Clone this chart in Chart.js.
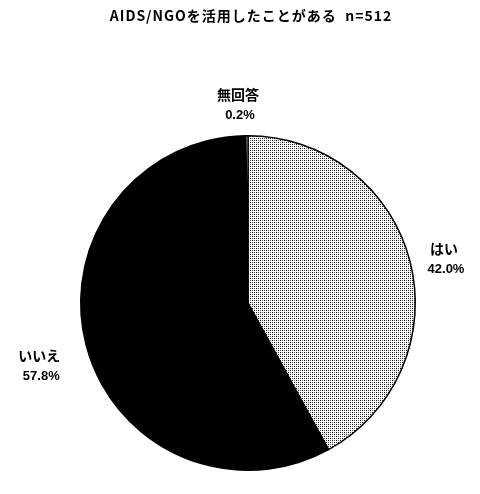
<!DOCTYPE html>
<html>
<head>
<meta charset="utf-8">
<script src="https://cdn.jsdelivr.net/npm/chart.js@4/dist/chart.umd.min.js"></script>
<style>
  html, body { margin: 0; padding: 0; background: #fff; }
  #wrap { width: 480px; height: 494px; }
</style>
</head>
<body>
<div id="wrap"><canvas id="chart"></canvas></div>
<script>
var title      = 'AIDS/NGOを活用したことがある  n=512';
var categories = ['はい', 'いいえ', '無回答'];
var values     = [42.0, 57.8, 0.2];

// dotted fill like the printed screen tone
function dotPattern() {
    var c = document.createElement('canvas');
    c.width = 4; c.height = 4;
    var g = c.getContext('2d');
    g.fillStyle = '#ffffff';
    g.fillRect(0, 0, 4, 4);
    g.fillStyle = '#000000';
    g.fillRect(0, 0, 1, 1);
    g.fillRect(2, 2, 1, 1);
    g.fillStyle = '#555555';
    g.fillRect(2, 0, 1, 1);
    g.fillRect(0, 2, 1, 1);
    return g.createPattern(c, 'repeat');
}

// label shift from the middle of each slice's rim
var labelShift = [[34, -3], [-47, 20], [-9, -31]];

var labelsPlugin = {
    id: 'pieLabels',
    afterDraw: function(chart) {
        var ctx = chart.ctx;
        ctx.save();
        ctx.fillStyle = '#000';
        ctx.textAlign = 'center';
        ctx.textBaseline = 'middle';
        ctx.font = 'bold 14px "Noto Sans CJK JP"';
        ctx.letterSpacing = '1px';
        ctx.fillText(title, 251, 16);
        ctx.letterSpacing = '0px';

        var arcs = chart.getDatasetMeta(0).data;
        arcs.forEach(function(arc, i) {
            var p = arc.getProps(['x', 'y', 'startAngle', 'endAngle', 'outerRadius'], true);
            var mid = (p.startAngle + p.endAngle) / 2;
            var x = p.x + Math.cos(mid) * p.outerRadius + labelShift[i][0];
            var y = p.y + Math.sin(mid) * p.outerRadius + labelShift[i][1];
            ctx.font = 'bold 14px "Noto Sans CJK JP"';
            ctx.fillText(categories[i], x, y - 10);
            ctx.font = 'bold 13px "Liberation Sans"';
            ctx.fillText(values[i].toFixed(1) + '%', x + 2, y + 11);
        });
        ctx.restore();
    }
};

const ctx = document.getElementById('chart').getContext('2d');
const myChart = new Chart(ctx, {
    type: 'pie',
    data: {
        labels: categories,
        datasets: [{
            data: values,
            backgroundColor: [dotPattern(), '#000000', '#ffffff'],
            borderColor: '#000000',
            borderWidth: 1.5
        }]
    },
    options: {
        responsive: true,
        maintainAspectRatio: false,
        animation: false,
        layout: { padding: { top: 135, bottom: 23, left: 80, right: 64 } },
        plugins: {
            legend: { display: false },
            tooltip: { enabled: false },
            title: { display: false }
        }
    },
    plugins: [labelsPlugin]
});
</script>
</body>
</html>
